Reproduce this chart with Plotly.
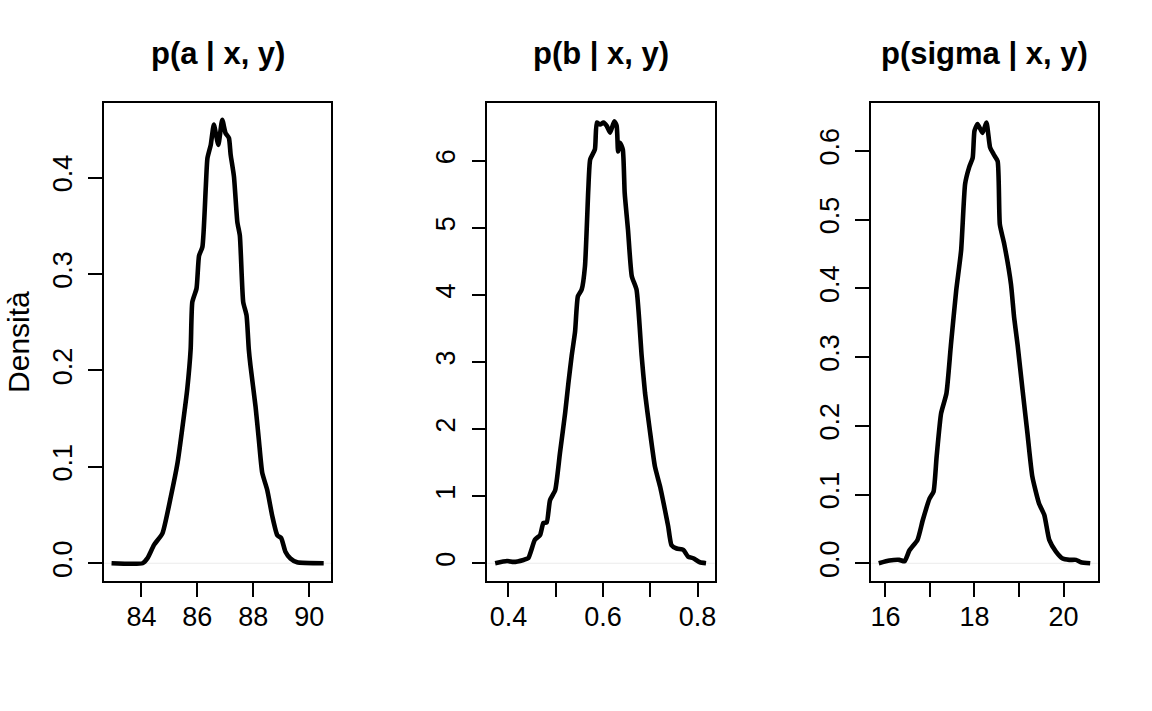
import plotly.graph_objects as go

# ---- data ----
a_x = [82.93, 84.04, 84.21, 84.45, 84.75, 85.05, 85.29, 85.52, 85.64, 85.76,
       85.82, 85.97, 86.06, 86.18, 86.30, 86.36, 86.48, 86.59, 86.75, 86.89,
       87.01, 87.13, 87.19, 87.31, 87.43, 87.52, 87.64, 87.76, 87.84, 87.90,
       88.08, 88.20, 88.32, 88.50, 88.68, 88.86, 89.00, 89.15, 89.33, 89.57,
       90.52]
a_y = [0, 0, 0.005, 0.019, 0.031, 0.069, 0.104, 0.153, 0.181, 0.222,
       0.271, 0.285, 0.319, 0.328, 0.389, 0.420, 0.434, 0.455, 0.434, 0.460,
       0.446, 0.441, 0.424, 0.401, 0.354, 0.340, 0.271, 0.257, 0.222, 0.205,
       0.163, 0.128, 0.094, 0.076, 0.049, 0.029, 0.026, 0.012, 0.005, 0.001,
       0]

b_x = [0.372, 0.397, 0.411, 0.432, 0.442, 0.456, 0.467, 0.474, 0.481, 0.488,
       0.499, 0.509, 0.520, 0.527, 0.534, 0.541, 0.547, 0.555, 0.562, 0.569,
       0.573, 0.583, 0.587, 0.594, 0.601, 0.608, 0.615, 0.624, 0.629, 0.632,
       0.636, 0.642, 0.646, 0.653, 0.661, 0.671, 0.682, 0.689, 0.699, 0.710,
       0.721, 0.731, 0.738, 0.745, 0.756, 0.770, 0.780, 0.791, 0.805, 0.818]
b_y = [0, 0.034, 0.02, 0.05, 0.075, 0.35, 0.42, 0.60, 0.61, 0.94,
       1.09, 1.64, 2.24, 2.69, 3.10, 3.45, 3.98, 4.08, 4.43, 5.57,
       6.02, 6.17, 6.57, 6.54, 6.57, 6.52, 6.42, 6.59, 6.52, 6.14,
       6.27, 6.17, 5.52, 4.97, 4.28, 4.08, 3.08, 2.54, 1.99, 1.44,
       1.14, 0.80, 0.55, 0.27, 0.22, 0.20, 0.10, 0.075, 0.015, 0]

s_x = [15.85, 16.09, 16.31, 16.43, 16.54, 16.72, 16.84, 16.99, 17.08, 17.15,
       17.25, 17.37, 17.47, 17.59, 17.70, 17.79, 17.88, 17.96, 18.00, 18.07,
       18.18, 18.27, 18.35, 18.43, 18.52, 18.57, 18.67, 18.82, 18.89, 18.97,
       19.08, 19.19, 19.30, 19.45, 19.57, 19.68, 19.83, 19.98, 20.13, 20.28,
       20.39, 20.60]
s_y = [0, 0.004, 0.005, 0.003, 0.019, 0.034, 0.063, 0.094, 0.104, 0.155,
       0.218, 0.247, 0.317, 0.397, 0.455, 0.552, 0.576, 0.590, 0.629, 0.639,
       0.626, 0.641, 0.605, 0.595, 0.585, 0.493, 0.464, 0.406, 0.358, 0.317,
       0.252, 0.189, 0.126, 0.087, 0.070, 0.034, 0.017, 0.007, 0.005, 0.005,
       0.0015, 0]

titles = ["p(a | x, y)", "p(b | x, y)", "p(sigma | x, y)"]
y_label = "Densità"

a_xticks = [84, 86, 88, 90]
a_xtext = ["84", "86", "88", "90"]
a_yticks = [0, 0.1, 0.2, 0.3, 0.4]
a_ytext = ["0.0", "0.1", "0.2", "0.3", "0.4"]

b_xticks = [0.4, 0.5, 0.6, 0.7, 0.8]
b_xtext = ["0.4", "", "0.6", "", "0.8"]
b_yticks = [0, 1, 2, 3, 4, 5, 6]
b_ytext = ["0", "1", "2", "3", "4", "5", "6"]

s_xticks = [16, 17, 18, 19, 20]
s_xtext = ["16", "", "18", "", "20"]
s_yticks = [0, 0.1, 0.2, 0.3, 0.4, 0.5, 0.6]
s_ytext = ["0.0", "0.1", "0.2", "0.3", "0.4", "0.5", "0.6"]

# ---- layout constants ----
W, H = 1152, 711
FONT = "Liberation Sans, Arial, Helvetica, sans-serif"
TICK_SIZE = 27
TITLE_SIZE = 31
YLAB_SIZE = 30

x_domains = [(103.3 / W, 330.7 / W), (487.3 / W, 715.0 / W), (871.7 / W, 1098.7 / W)]
y_domain = (1 - 580.7 / H, 1 - 102.7 / H)

x_ranges = [(82.664, 90.786), (0.3557, 0.8365), (15.68, 20.77)]
y_ranges = [(-0.0181, 0.4777), (-0.26, 6.866), (-0.0253, 0.670)]

series = [(a_x, a_y), (b_x, b_y), (s_x, s_y)]
xt = [(a_xticks, a_xtext), (b_xticks, b_xtext), (s_xticks, s_xtext)]
yt = [(a_yticks, a_ytext), (b_yticks, b_ytext), (s_yticks, s_ytext)]

fig = go.Figure()
layout = dict(
    width=W, height=H,
    margin=dict(l=0, r=0, t=0, b=0),
    paper_bgcolor="white", plot_bgcolor="white",
    showlegend=False,
    font=dict(family=FONT, color="black", size=TICK_SIZE),
)

shapes = []
annotations = []
for i in range(3):
    sfx = "" if i == 0 else str(i + 1)
    xs, ys = series[i]
    # zero line (as in R's plot.density)
    shapes.append(dict(type="line", xref=f"x{sfx} domain", yref=f"y{sfx}",
                       x0=0, x1=1, y0=0, y1=0,
                       line=dict(color="#ebebeb", width=1), layer="below"))
    fig.add_trace(go.Scatter(x=xs, y=ys, mode="lines",
                             xaxis=f"x{sfx}", yaxis=f"y{sfx}",
                             line=dict(color="black", width=4.6, shape="spline",
                                       smoothing=0.5),
                             hoverinfo="skip"))
    layout[f"xaxis{sfx}"] = dict(
        domain=list(x_domains[i]), range=list(x_ranges[i]), anchor=f"y{sfx}",
        showgrid=False, zeroline=False,
        showline=True, linecolor="black", linewidth=1.6, mirror=True,
        ticks="outside", ticklen=14, tickwidth=1.6, tickcolor="black",
        tickvals=xt[i][0], ticktext=xt[i][1], ticklabelstandoff=-3,
        tickfont=dict(size=TICK_SIZE, family=FONT, color="black"),
    )
    layout[f"yaxis{sfx}"] = dict(
        domain=list(y_domain), range=list(y_ranges[i]), anchor=f"x{sfx}",
        showgrid=False, zeroline=False,
        showline=True, linecolor="black", linewidth=1.6, mirror=True,
        ticks="outside", ticklen=14, tickwidth=1.6, tickcolor="black",
        tickvals=yt[i][0], ticktext=yt[i][1], tickangle=-90,
        ticklabelstandoff=6,
        tickfont=dict(size=TICK_SIZE, family=FONT, color="black"),
    )
    cx = (x_domains[i][0] + x_domains[i][1]) / 2
    annotations.append(dict(text=f"<b>{titles[i]}</b>", xref="paper", yref="paper",
                            x=cx, y=1 - 54 / H, xanchor="center", yanchor="middle",
                            showarrow=False,
                            font=dict(size=TITLE_SIZE, family=FONT, color="black")))

annotations.append(dict(text=y_label, xref="paper", yref="paper",
                        x=17 / W, y=1 - 342 / H, xanchor="center", yanchor="middle",
                        textangle=-90, showarrow=False,
                        font=dict(size=YLAB_SIZE, family=FONT, color="black")))

layout["shapes"] = shapes
layout["annotations"] = annotations
fig.update_layout(**layout)
fig.write_html("out.html", config={"displayModeBar": False},
               post_script="document.body.style.margin='0';document.body.style.padding='0';")
